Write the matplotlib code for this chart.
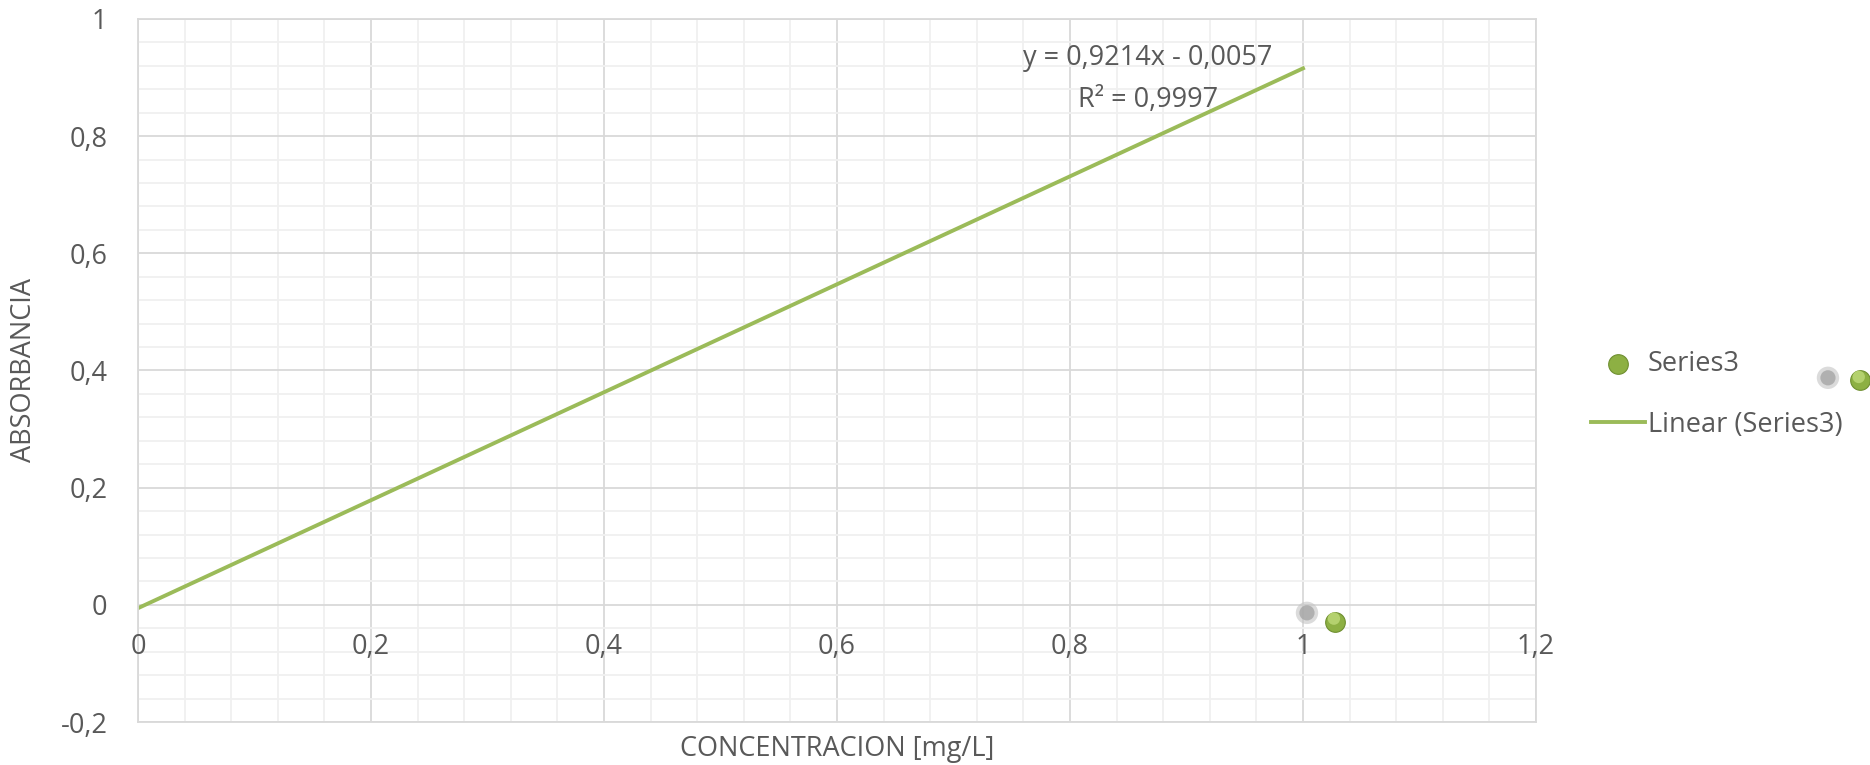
import matplotlib.pyplot as plt
import numpy as np

plt.rcParams['font.family'] = ['Open Sans', 'DejaVu Sans']

# datos
conc = [1.0275, 1.478]
absorb = [-0.0285, 0.384]
sombra_x = [1.0034, 1.4506]
sombra_y = [-0.0137, 0.3875]
pendiente = 0.9214
intercepto = -0.0057
r2 = 0.9997
rango_ajuste = np.array([0.0, 1.0])

xticks = [0, 0.2, 0.4, 0.6, 0.8, 1.0, 1.2]
yticks = [-0.2, 0, 0.2, 0.4, 0.6, 0.8, 1.0]

gris = '#595959'
verde = '#9bbb59'
fs = 19.5

fig = plt.figure(figsize=(18.7, 7.65), dpi=100)
ax = fig.add_axes([0.0738, 0.0562, 0.7476, 0.919])
ax.set_xlim(0, 1.2)
ax.set_ylim(-0.2, 1.0)

ax.set_xticks(xticks)
ax.set_yticks(yticks)
ax.set_xticks(np.arange(0, 1.2001, 0.04), minor=True)
ax.set_yticks(np.arange(-0.2, 1.0001, 0.04), minor=True)
ax.grid(which='major', color='#d9d9d9', linewidth=1.3)
ax.grid(which='minor', color='#f0f0f0', linewidth=1.3)
ax.set_axisbelow(True)
ax.tick_params(which='both', length=0)
for s in ax.spines.values():
    s.set_color('#d9d9d9')
    s.set_linewidth(1.3)

ax.set_yticklabels([f'{v:g}'.replace('.', ',') for v in yticks], fontsize=fs, color=gris)
ax.tick_params(axis='y', pad=22)
ax.set_xticklabels([])
for v in xticks:
    ax.text(v, -0.072, f'{v:g}'.replace('.', ','), ha='center', va='center',
            fontsize=fs, color=gris)

# linea de tendencia
ax.plot(rango_ajuste, pendiente * rango_ajuste + intercepto, color=verde, linewidth=2.8,
        label='Linear (Series3)')
ax.text(0.867, 0.934, f'y = {pendiente:.4f}x - {abs(intercepto):.4f}'.replace('.', ','),
        ha='center', va='center', fontsize=fs, color=gris)
ax.text(0.867, 0.862, f'R² = {r2:.4f}'.replace('.', ','),
        ha='center', va='center', fontsize=fs, color=gris)

# puntos con sombra
ax.scatter(sombra_x, sombra_y, s=260, color='#c4c4c4', alpha=0.6, edgecolors='none',
           clip_on=False, zorder=3)
ax.scatter(sombra_x, sombra_y, s=120, color='#a6a6a6', alpha=0.8, edgecolors='none',
           clip_on=False, zorder=3)
ax.scatter(conc, absorb, s=200, color='#8db043', edgecolors='#6f8f30', linewidths=0.8,
           clip_on=False, zorder=4, label='Series3')
ax.scatter(np.array(conc) - 0.001, np.array(absorb) + 0.005, s=80, color='#b4d16e',
           edgecolors='none', clip_on=False, zorder=5)

ax.set_xlabel('CONCENTRACION [mg/L]', fontsize=fs, color=gris, labelpad=6)
ax.set_ylabel('ABSORBANCIA', fontsize=fs, color=gris, labelpad=16)

h, l = ax.get_legend_handles_labels()
ax.legend([h[1], h[0]], [l[1], l[0]], loc='center left', bbox_to_anchor=(1.022, 0.466),
          frameon=False, fontsize=fs, labelcolor=gris, handlelength=2.0,
          labelspacing=1.2, handletextpad=0.1)

fig.savefig('out.png', dpi=100)
